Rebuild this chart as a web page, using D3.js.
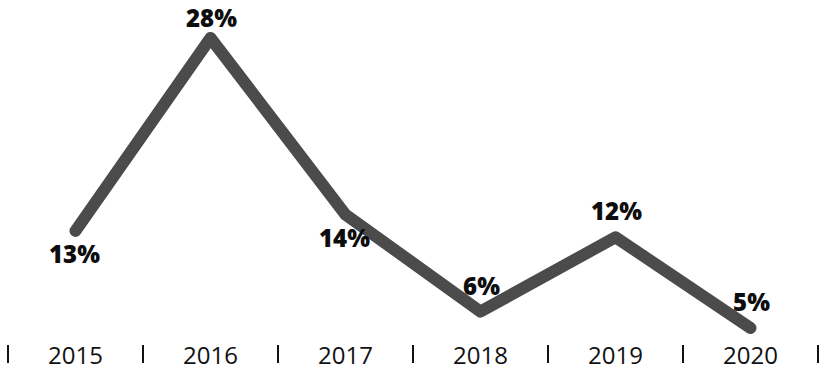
<!DOCTYPE html>
<html>
<head>
<meta charset="utf-8">
<script src="https://cdn.jsdelivr.net/npm/d3@7"></script>
<style>
  html, body { margin: 0; padding: 0; background: #fff; }
  svg { display: block; }
</style>
</head>
<body>
<svg id="chart" width="831" height="381"></svg>
<script>
const years = ['2015', '2016', '2017', '2018', '2019', '2020'];
const values = [12.7, 28, 14, 6.3, 12.2, 5];
const valueLabels = ['13%', '28%', '14%', '6%', '12%', '5%'];
const labelPlacement = ['below', 'above', 'below', 'above', 'above', 'above'];

const svg = d3.select('#chart');
const W = 831, H = 381;

const x = d3.scaleBand().domain(years).range([8, 818]).padding(0);
const y = d3.scaleLinear().domain([5, 28]).range([328, 38]);

const data = years.map((yr, i) => ({ yr, v: values[i], label: valueLabels[i], place: labelPlacement[i] }));

// line
const line = d3.line()
  .x(d => x(d.yr) + x.bandwidth() / 2)
  .y(d => y(d.v));

svg.append('path')
  .datum(data)
  .attr('d', line)
  .attr('fill', 'none')
  .attr('stroke', '#4b4b4b')
  .attr('stroke-width', 12)
  .attr('stroke-linecap', 'round')
  .attr('stroke-linejoin', 'round');

// value labels
svg.append('g')
  .selectAll('text')
  .data(data)
  .join('text')
  .attr('x', d => x(d.yr) + x.bandwidth() / 2 + (d.place === 'below' ? -1 : 1))
  .attr('y', d => d.place === 'below' ? y(d.v) + 32 : Math.max(27, y(d.v) - 17))
  .attr('text-anchor', 'middle')
  .attr('font-family', '"Open Sans", sans-serif')
  .attr('font-weight', 800)
  .attr('font-size', 24)
  .attr('fill', '#0d0d0d')
  .text(d => d.label);

// bottom axis: separators at band edges, year labels centered
const axisY = 354;
const edges = years.map(yr => x(yr)).concat([x(years[years.length - 1]) + x.bandwidth()]);

svg.append('g')
  .selectAll('line')
  .data(edges)
  .join('line')
  .attr('x1', d => d)
  .attr('x2', d => d)
  .attr('y1', axisY - 9)
  .attr('y2', axisY + 9)
  .attr('stroke', '#111')
  .attr('stroke-width', 2);

svg.append('g')
  .selectAll('text')
  .data(years)
  .join('text')
  .attr('x', d => x(d) + x.bandwidth() / 2)
  .attr('y', 364)
  .attr('text-anchor', 'middle')
  .attr('font-family', '"Open Sans", sans-serif')
  .attr('font-weight', 400)
  .attr('font-size', 24)
  .attr('fill', '#111')
  .text(d => d);
</script>
</body>
</html>
